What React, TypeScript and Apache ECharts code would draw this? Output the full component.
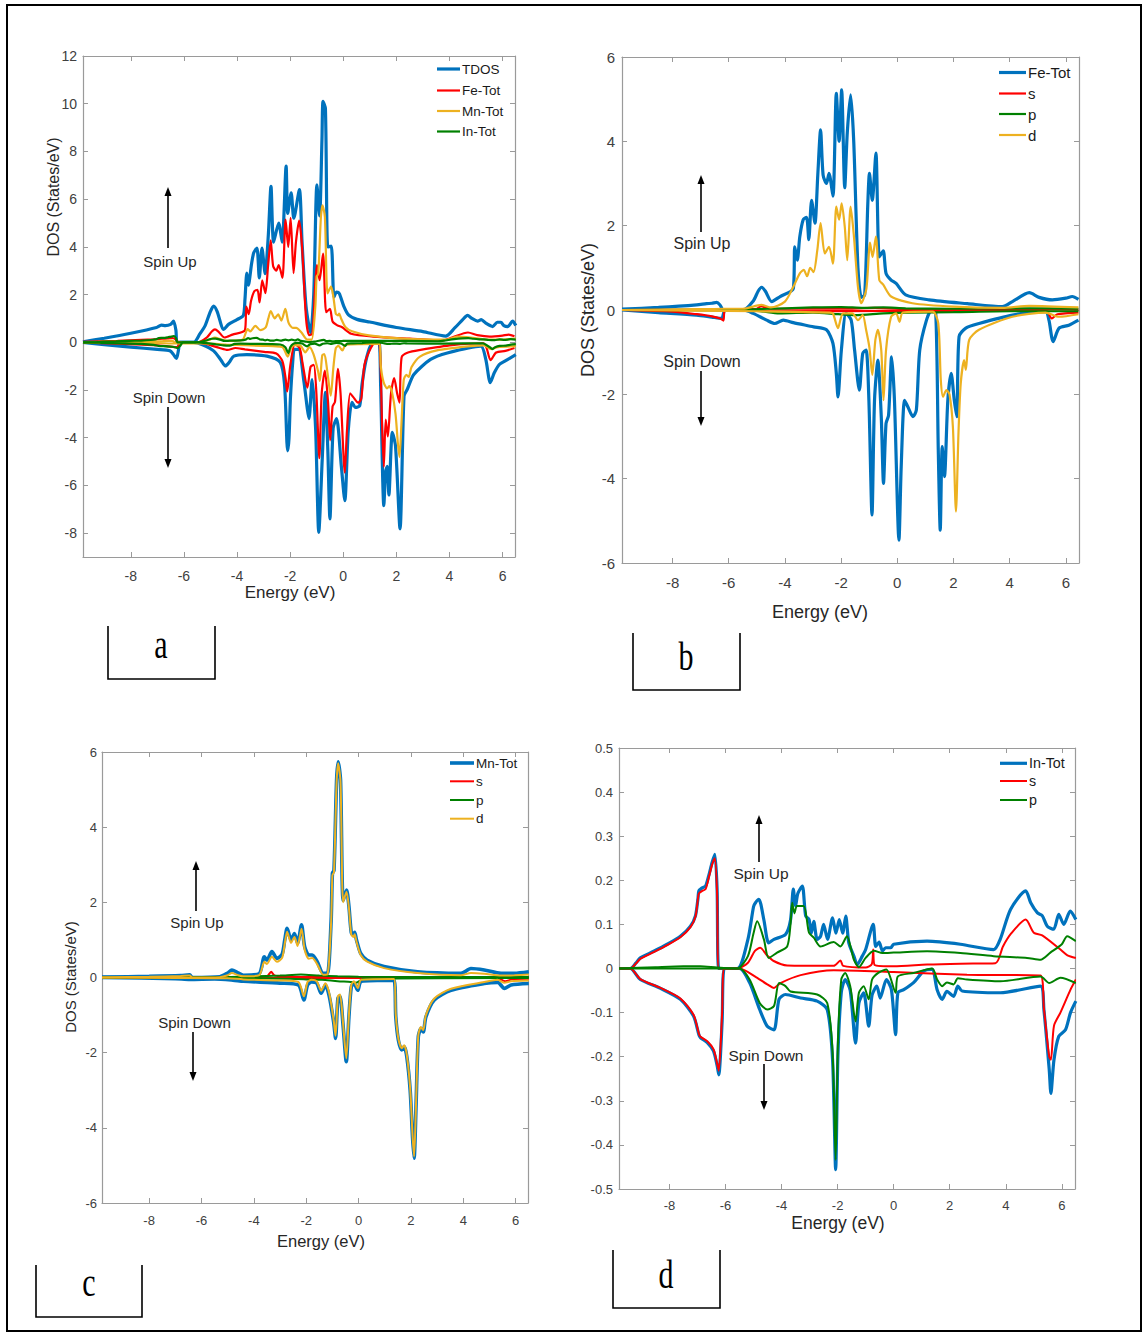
import React, { useEffect, useRef } from "react";
import * as echarts from "echarts";

// ---------------- DATA ----------------
const energyTicks = [-8, -6, -4, -2, 0, 2, 4, 6];
const dosTicksA = [-8, -6, -4, -2, 0, 2, 4, 6, 8, 10, 12];
const dosTicksBC = [-6, -4, -2, 0, 2, 4, 6];
const dosTicksD = [-0.5, -0.4, -0.3, -0.2, -0.1, 0, 0.1, 0.2, 0.3, 0.4, 0.5];

// Panel a: total DOS
const tdosUp = [[-9.8,0.02],[-9.0,0.17],[-8.0,0.38],[-7.03,0.62],[-6.85,0.72],[-6.7,0.7],[-6.5,0.75],[-6.39,0.89],[-6.3,0.5],[-6.25,0.0],[-5.63,0.0],[-5.4,0.35],[-5.2,0.7],[-5.0,1.3],[-4.88,1.52],[-4.75,1.3],[-4.5,0.54],[-4.32,0.75],[-4.0,0.95],[-3.76,1.13],[-3.7,1.8],[-3.63,2.9],[-3.57,2.4],[-3.45,3.3],[-3.37,3.75],[-3.25,3.95],[-3.16,2.7],[-3.06,3.95],[-2.94,2.88],[-2.82,4.5],[-2.72,6.54],[-2.62,4.2],[-2.43,5.0],[-2.3,4.2],[-2.15,7.38],[-2.09,5.4],[-1.96,6.26],[-1.86,5.2],[-1.65,6.4],[-1.55,4.2],[-1.4,1.5],[-1.23,0.4],[-1.11,2.0],[-0.99,6.6],[-0.89,5.3],[-0.8,8.5],[-0.76,10.1],[-0.67,9.8],[-0.58,4.0],[-0.45,4.03],[-0.35,1.9],[-0.25,2.1],[-0.15,2.05],[0.02,1.52],[0.2,1.15],[0.52,0.96],[1.0,0.85],[2.0,0.62],[3.0,0.45],[3.86,0.26],[4.2,0.6],[4.5,0.95],[4.68,1.13],[4.85,1.0],[5.06,0.89],[5.2,0.95],[5.37,0.8],[5.63,0.66],[5.8,0.84],[5.94,0.84],[6.05,0.7],[6.2,0.66],[6.38,0.89],[6.5,0.7]];
const tdosDown = [[-9.8,0],[-9.0,-0.1],[-8.0,-0.2],[-7.0,-0.3],[-6.52,-0.36],[-6.4,-0.5],[-6.28,-0.68],[-6.2,-0.3],[-6.15,0],[-5.63,0],[-5.3,-0.1],[-4.88,-0.36],[-4.6,-0.75],[-4.44,-0.99],[-4.3,-0.85],[-4.12,-0.58],[-3.63,-0.52],[-2.87,-0.58],[-2.37,-0.84],[-2.21,-1.76],[-2.12,-4.2],[-2.09,-4.55],[-2.04,-4.0],[-1.99,-2.4],[-1.9,-0.8],[-1.84,-0.3],[-1.68,-0.3],[-1.49,-1.56],[-1.35,-2.8],[-1.29,-3.2],[-1.17,-1.56],[-1.04,-3.6],[-0.92,-7.97],[-0.79,-4.9],[-0.67,-2.1],[-0.58,-4.5],[-0.5,-7.4],[-0.38,-3.6],[-0.25,-3.2],[-0.07,-5.2],[0.06,-6.64],[0.19,-3.7],[0.33,-2.52],[0.46,-2.73],[0.62,-2.66],[0.71,-1.76],[0.85,-0.8],[1.03,-0.14],[1.22,0],[1.35,0],[1.41,-1.83],[1.53,-6.85],[1.6,-5.4],[1.66,-5.2],[1.72,-6.4],[1.85,-3.78],[1.97,-4.35],[2.14,-7.82],[2.29,-2.26],[2.41,-1.98],[2.66,-1.35],[3.29,-0.72],[3.92,-0.45],[5.18,-0.16],[5.37,-0.72],[5.54,-1.69],[5.69,-1.28],[5.88,-0.93],[6.07,-0.8],[6.5,-0.52]];

// Fe (panel b, and Fe-Tot in panel a)
const feTotUp = [[-9.8,0.02],[-8.5,0.06],[-7.14,0.12],[-6.79,0.15],[-6.6,0.16],[-6.43,0.18],[-6.31,0.12],[-6.19,0],[-5.48,0],[-5.13,0.21],[-4.95,0.45],[-4.83,0.54],[-4.7,0.45],[-4.47,0.2],[-4.17,0.32],[-3.7,0.51],[-3.65,1.5],[-3.56,1.18],[-3.47,1.74],[-3.35,2.14],[-3.23,2.2],[-3.15,1.67],[-3.05,2.6],[-2.93,2.06],[-2.83,3.2],[-2.73,4.27],[-2.64,3.2],[-2.52,3.0],[-2.43,3.24],[-2.29,2.7],[-2.17,5.14],[-2.07,4.0],[-1.98,5.22],[-1.87,2.9],[-1.78,4.2],[-1.66,5.1],[-1.55,4.0],[-1.4,1.0],[-1.28,0.3],[-1.16,0.36],[-1.05,2.5],[-0.99,3.24],[-0.89,2.6],[-0.76,3.72],[-0.64,1.26],[-0.5,1.4],[-0.4,0.87],[-0.22,0.71],[-0.04,0.63],[0.3,0.36],[1.13,0.24],[2.5,0.15],[3.74,0.08],[4.1,0.2],[4.7,0.41],[5.05,0.3],[5.52,0.24],[6.0,0.28],[6.23,0.32],[6.45,0.25]];
const feTotDown = [[-9.8,0],[-8.5,-0.06],[-7.14,-0.12],[-6.6,-0.17],[-6.25,-0.2],[-6.13,0],[-5.48,0],[-5.13,-0.08],[-4.65,-0.24],[-4.36,-0.32],[-4.06,-0.24],[-3.7,-0.3],[-2.98,-0.4],[-2.52,-0.47],[-2.29,-0.79],[-2.17,-1.5],[-2.11,-2.06],[-1.99,-0.95],[-1.82,-0.08],[-1.64,-0.24],[-1.52,-0.95],[-1.35,-1.9],[-1.23,-1.03],[-1.11,-0.95],[-1.01,-2.14],[-0.9,-4.86],[-0.81,-2.14],[-0.69,-1.19],[-0.57,-2.53],[-0.49,-4.11],[-0.4,-2.69],[-0.31,-2.5],[-0.2,-1.11],[-0.1,-2.14],[0.06,-5.46],[0.14,-3.72],[0.26,-2.14],[0.38,-2.3],[0.56,-2.53],[0.68,-2.37],[0.8,-0.95],[1.04,-0.24],[1.22,0],[1.37,-0.08],[1.46,-3.32],[1.53,-5.22],[1.6,-3.24],[1.68,-3.95],[1.8,-2.14],[1.92,-1.5],[2.03,-2.14],[2.12,-2.53],[2.2,-0.63],[2.44,-0.43],[2.91,-0.32],[4.1,-0.12],[5.28,-0.04],[5.4,-0.24],[5.55,-0.75],[5.76,-0.43],[6.11,-0.36],[6.45,-0.24]];
const feSUp = [[-9.8,0],[-6.2,0.01],[-5.0,0.03],[-4.85,0.09],[-4.5,0.03],[-2.0,0.03],[-0.8,0.05],[0.5,0.02],[6.45,0.01]];
const feSDown = [[-9.8,0],[-8.0,-0.04],[-7.14,-0.1],[-6.6,-0.15],[-6.31,-0.2],[-6.19,-0.25],[-6.13,0],[-5.5,0],[-4.5,-0.03],[0.0,-0.02],[5.3,-0.02],[5.5,-0.2],[5.7,-0.1],[6.45,-0.06]];
const fePUp = [[-9.8,0],[-6.2,0.01],[-5.0,0.02],[-4.0,0.04],[-3.0,0.06],[-2.0,0.07],[-1.2,0.05],[-0.5,0.06],[0.3,0.04],[2.0,0.03],[4.5,0.04],[6.45,0.03]];
const fePDown = [[-9.8,0],[-5.0,-0.02],[-4.2,-0.08],[-3.0,-0.06],[-2.1,-0.1],[-1.5,-0.12],[-0.5,-0.08],[0.5,-0.06],[2.0,-0.05],[4.0,-0.03],[6.45,-0.03]];
const feDUp = [[-9.8,0],[-7.0,0.02],[-6.2,0.03],[-5.5,0.03],[-4.83,0.12],[-4.5,0.06],[-4.0,0.2],[-3.7,0.55],[-3.47,0.87],[-3.33,0.95],[-3.21,0.8],[-3.1,1.0],[-2.98,0.9],[-2.85,1.4],[-2.73,2.06],[-2.58,1.34],[-2.43,1.5],[-2.29,1.1],[-2.17,2.45],[-2.07,2.14],[-1.98,2.53],[-1.87,1.98],[-1.78,1.18],[-1.66,2.45],[-1.55,1.8],[-1.4,0.55],[-1.28,0.16],[-1.1,0.5],[-0.97,1.6],[-0.88,1.26],[-0.76,1.74],[-0.64,0.71],[-0.5,0.6],[-0.22,0.32],[0.54,0.16],[2.0,0.08],[3.74,0.05],[4.7,0.1],[6.45,0.06]];
const feDDown = [[-9.8,0],[-5.0,-0.03],[-2.4,-0.06],[-2.29,-0.08],[-2.11,-0.43],[-1.93,-0.08],[-1.6,-0.08],[-1.4,-0.24],[-1.23,-0.12],[-1.11,-0.47],[-0.99,-0.9],[-0.89,-1.54],[-0.78,-0.71],[-0.69,-0.47],[-0.57,-0.95],[-0.49,-2.14],[-0.4,-0.95],[-0.22,-0.16],[-0.04,-0.08],[0.08,-0.28],[0.2,-0.06],[1.26,-0.04],[1.46,-0.32],[1.55,-1.66],[1.63,-2.06],[1.75,-1.9],[1.86,-2.0],[1.98,-2.77],[2.09,-4.78],[2.18,-2.9],[2.26,-1.74],[2.38,-1.19],[2.44,-1.42],[2.56,-0.71],[2.91,-0.47],[4.1,-0.16],[5.28,-0.06],[5.76,-0.16],[6.45,-0.1]];

// Mn (panel c, and Mn-Tot in panel a)
const mnTotUp = [[-9.8,0.01],[-8.0,0.03],[-6.8,0.05],[-6.45,0.07],[-6.35,0.0],[-5.3,0.02],[-5.0,0.12],[-4.84,0.2],[-4.6,0.12],[-4.4,0.06],[-3.8,0.1],[-3.6,0.55],[-3.5,0.46],[-3.31,0.69],[-3.12,0.51],[-2.92,0.62],[-2.82,1.0],[-2.73,1.31],[-2.58,1.0],[-2.45,1.17],[-2.33,0.91],[-2.18,1.4],[-2.06,0.82],[-1.9,0.6],[-1.77,0.6],[-1.58,0.42],[-1.35,0.11],[-1.19,0.11],[-1.05,1.5],[-1.0,2.77],[-0.94,2.85],[-0.84,5.25],[-0.78,5.74],[-0.69,5.25],[-0.59,2.05],[-0.46,2.33],[-0.37,1.9],[-0.28,1.2],[-0.2,1.13],[-0.15,1.2],[-0.08,1.0],[0.08,0.64],[0.33,0.46],[0.97,0.29],[2.25,0.15],[3.91,0.11],[4.29,0.24],[4.8,0.2],[5.44,0.11],[5.95,0.11],[6.5,0.15]];
const mnTotDown = [[-9.8,0],[-7.0,-0.03],[-6.45,-0.05],[-5.5,-0.04],[-4.8,-0.07],[-4.4,-0.1],[-3.0,-0.15],[-2.3,-0.2],[-2.09,-0.6],[-1.95,-0.2],[-1.8,-0.12],[-1.6,-0.15],[-1.43,-0.42],[-1.27,-0.2],[-1.12,-0.5],[-0.95,-1.2],[-0.88,-1.62],[-0.79,-0.55],[-0.71,-0.5],[-0.59,-1.3],[-0.47,-2.24],[-0.37,-1.05],[-0.28,-0.25],[-0.18,-0.15],[-0.03,-0.34],[0.1,-0.1],[1.35,-0.07],[1.42,-1.04],[1.52,-1.67],[1.65,-1.93],[1.74,-1.84],[1.84,-2.1],[1.97,-3.0],[2.06,-4.25],[2.12,-4.81],[2.19,-3.5],[2.28,-1.58],[2.38,-1.36],[2.47,-1.45],[2.57,-1.05],[2.89,-0.6],[3.53,-0.34],[4.8,-0.16],[5.31,-0.13],[5.57,-0.29],[5.82,-0.2],[6.5,-0.16]];
const mnSUp = [[-9.8,0],[-4.0,0.01],[-3.5,0.03],[-3.34,0.15],[-3.2,0.05],[-2.5,0.02],[6.5,0.01]];
const mnSDown = [[-9.8,0],[-4.0,-0.01],[0.0,-0.01],[5.3,-0.01],[5.6,-0.1],[5.9,-0.04],[6.5,-0.03]];
const mnPUp = [[-9.8,0],[-5.0,0.01],[-4.0,0.03],[-3.0,0.05],[-2.2,0.08],[-1.5,0.05],[-0.8,0.03],[0.0,0.02],[6.5,0.01]];
const mnPDown = [[-9.8,0],[-4.0,-0.01],[-2.0,-0.05],[-1.4,-0.06],[-0.8,-0.1],[-0.3,-0.12],[-0.1,-0.14],[0.2,-0.03],[6.5,-0.01]];
const mnDUp = [[-9.8,0.0],[-8.0,0.02],[-6.8,0.04],[-6.45,0.05],[-6.35,0.0],[-5.3,0.01],[-5.0,0.06],[-4.84,0.12],[-4.6,0.06],[-4.4,0.03],[-3.8,0.06],[-3.6,0.42],[-3.5,0.36],[-3.31,0.55],[-3.12,0.42],[-2.92,0.52],[-2.82,0.9],[-2.73,1.22],[-2.58,0.92],[-2.45,1.08],[-2.33,0.84],[-2.18,1.3],[-2.06,0.74],[-1.9,0.5],[-1.77,0.52],[-1.58,0.35],[-1.35,0.07],[-1.19,0.08],[-1.05,1.45],[-1.0,2.72],[-0.94,2.8],[-0.84,5.2],[-0.78,5.7],[-0.69,5.2],[-0.59,2.0],[-0.46,2.28],[-0.37,1.85],[-0.28,1.15],[-0.2,1.08],[-0.15,1.15],[-0.08,0.95],[0.08,0.6],[0.33,0.42],[0.97,0.25],[2.25,0.12],[3.91,0.06],[4.29,0.12],[4.8,0.1],[5.44,0.05],[5.95,0.06],[6.5,0.08]];
const mnDDown = [[-9.8,0],[-7.0,-0.01],[-5.0,-0.02],[-4.4,-0.05],[-3.0,-0.08],[-2.3,-0.12],[-2.09,-0.5],[-1.95,-0.12],[-1.8,-0.06],[-1.6,-0.1],[-1.43,-0.35],[-1.27,-0.15],[-1.12,-0.42],[-0.95,-1.15],[-0.88,-1.55],[-0.79,-0.5],[-0.71,-0.45],[-0.59,-1.25],[-0.47,-2.15],[-0.37,-1.0],[-0.28,-0.2],[-0.18,-0.1],[-0.03,-0.28],[0.1,-0.06],[1.35,-0.04],[1.42,-1.0],[1.52,-1.63],[1.65,-1.88],[1.74,-1.8],[1.84,-2.05],[1.97,-2.95],[2.06,-4.2],[2.12,-4.76],[2.19,-3.45],[2.28,-1.54],[2.38,-1.32],[2.47,-1.4],[2.57,-1.0],[2.89,-0.56],[3.53,-0.3],[4.8,-0.12],[5.31,-0.06],[5.57,-0.14],[5.82,-0.1],[6.5,-0.08]];

// In (panel d, and In-Tot in panel a)
const inTotUp = [[-9.8,0],[-9.4,0],[-9.2,0.012],[-9.04,0.024],[-8.56,0.039],[-8.08,0.055],[-7.61,0.073],[-7.25,0.096],[-7.07,0.12],[-6.98,0.16],[-6.95,0.176],[-6.83,0.183],[-6.71,0.187],[-6.6,0.21],[-6.48,0.24],[-6.38,0.259],[-6.3,0.18],[-6.24,0],[-5.58,0],[-5.2,0.066],[-5.0,0.14],[-4.93,0.149],[-4.81,0.157],[-4.63,0.11],[-4.46,0.058],[-4.27,0.066],[-3.86,0.077],[-3.68,0.11],[-3.58,0.18],[-3.5,0.142],[-3.42,0.17],[-3.26,0.187],[-3.14,0.119],[-3.02,0.111],[-2.94,0.08],[-2.85,0.107],[-2.73,0.066],[-2.61,0.073],[-2.5,0.1],[-2.36,0.066],[-2.18,0.115],[-2.06,0.08],[-1.94,0.111],[-1.82,0.08],[-1.71,0.119],[-1.6,0.058],[-1.42,0.028],[-1.3,0.009],[-1.12,0.028],[-1.0,0.043],[-0.73,0.1],[-0.64,0.05],[-0.52,0.06],[-0.4,0.04],[-0.29,0.047],[-0.1,0.047],[0.0,0.055],[1.19,0.062],[2.38,0.055],[3.57,0.043],[3.8,0.066],[4.17,0.134],[4.71,0.176],[4.89,0.149],[5.13,0.126],[5.3,0.12],[5.48,0.096],[5.71,0.089],[5.89,0.123],[6.07,0.1],[6.3,0.13],[6.5,0.111]];
const inTotDown = [[-9.8,0],[-9.4,0],[-9.04,-0.025],[-8.32,-0.045],[-7.61,-0.07],[-7.14,-0.108],[-6.95,-0.15],[-6.89,-0.157],[-6.65,-0.168],[-6.43,-0.187],[-6.3,-0.22],[-6.24,-0.241],[-6.12,-0.12],[-6.04,0],[-5.5,0],[-5.14,-0.032],[-4.78,-0.093],[-4.51,-0.131],[-4.27,-0.139],[-4.09,-0.07],[-3.86,-0.059],[-3.32,-0.067],[-2.73,-0.074],[-2.37,-0.093],[-2.18,-0.207],[-2.07,-0.456],[-1.99,-0.2],[-1.87,-0.055],[-1.73,-0.025],[-1.55,-0.05],[-1.36,-0.169],[-1.24,-0.078],[-1.07,-0.055],[-0.89,-0.131],[-0.77,-0.06],[-0.6,-0.04],[-0.48,-0.067],[-0.26,-0.025],[-0.08,-0.048],[0.07,-0.15],[0.15,-0.055],[0.36,-0.048],[0.71,-0.032],[1.07,-0.006],[1.37,-0.002],[1.55,-0.048],[1.73,-0.07],[1.9,-0.052],[2.14,-0.063],[2.29,-0.04],[2.44,-0.051],[3.81,-0.055],[5.24,-0.04],[5.36,-0.093],[5.55,-0.229],[5.61,-0.283],[5.72,-0.207],[5.89,-0.154],[6.13,-0.139],[6.31,-0.1],[6.5,-0.074]];
const inSUp = [[-9.8,0],[-9.4,0],[-9.2,0.011],[-9.04,0.022],[-8.56,0.037],[-8.08,0.053],[-7.61,0.071],[-7.25,0.094],[-7.07,0.118],[-6.98,0.16],[-6.95,0.17],[-6.83,0.176],[-6.71,0.18],[-6.6,0.205],[-6.48,0.235],[-6.38,0.25],[-6.3,0.17],[-6.24,0],[-5.58,0],[-5.2,0.013],[-4.95,0.04],[-4.76,0.047],[-4.52,0.03],[-4.28,0.017],[-3.8,0.007],[-2.14,0.006],[-1.9,0.018],[-1.8,0.006],[-1.0,0.002],[-0.78,0.01],[-0.73,0.043],[-0.68,0.008],[0.0,0.005],[1.19,0.009],[2.38,0.011],[3.63,0.012],[3.9,0.05],[4.2,0.08],[4.71,0.111],[5.0,0.081],[5.3,0.075],[5.95,0.043],[6.2,0.03],[6.5,0.024]];
const inSDown = [[-9.8,0],[-9.4,0],[-9.04,-0.024],[-8.32,-0.044],[-7.61,-0.068],[-7.14,-0.105],[-6.95,-0.148],[-6.89,-0.155],[-6.65,-0.165],[-6.43,-0.183],[-6.3,-0.215],[-6.24,-0.232],[-6.12,-0.1],[-6.04,0],[-5.5,0],[-4.9,-0.02],[-4.51,-0.036],[-4.27,-0.044],[-4.04,-0.033],[-3.32,-0.015],[-2.14,-0.004],[0.0,-0.008],[2.62,-0.014],[5.24,-0.016],[5.36,-0.09],[5.55,-0.2],[5.61,-0.207],[5.72,-0.13],[5.95,-0.1],[6.31,-0.048],[6.5,-0.025]];
const inPUp = [[-9.8,0],[-8.5,0.003],[-7.5,0.005],[-6.9,0.005],[-6.3,0.002],[-5.58,0],[-5.2,0.028],[-5.0,0.08],[-4.87,0.107],[-4.63,0.066],[-4.46,0.024],[-4.16,0.036],[-3.8,0.05],[-3.68,0.1],[-3.62,0.149],[-3.54,0.125],[-3.45,0.142],[-3.21,0.142],[-3.02,0.081],[-2.85,0.07],[-2.61,0.05],[-2.14,0.06],[-1.9,0.05],[-1.67,0.073],[-1.42,0.02],[-1.24,0.003],[-1.0,0.024],[-0.7,0.04],[-0.4,0.035],[0.0,0.036],[1.19,0.039],[2.38,0.035],[3.57,0.028],[4.76,0.024],[5.24,0.02],[5.59,0.036],[6.0,0.055],[6.19,0.073],[6.5,0.062]];
const inPDown = [[-9.8,0],[-5.5,0],[-5.14,-0.025],[-4.78,-0.078],[-4.51,-0.093],[-4.27,-0.085],[-4.09,-0.033],[-3.86,-0.04],[-3.68,-0.052],[-2.73,-0.059],[-2.37,-0.078],[-2.18,-0.19],[-2.07,-0.434],[-1.99,-0.17],[-1.87,-0.025],[-1.73,-0.01],[-1.55,-0.04],[-1.36,-0.12],[-1.24,-0.055],[-1.07,-0.04],[-0.89,-0.07],[-0.77,-0.025],[-0.55,-0.01],[-0.26,-0.002],[0.07,-0.055],[0.15,-0.018],[0.71,-0.01],[1.37,0],[1.55,-0.025],[1.73,-0.04],[1.9,-0.032],[2.14,-0.036],[2.29,-0.022],[2.62,-0.025],[3.81,-0.029],[5.24,-0.018],[5.55,-0.033],[5.95,-0.021],[6.5,-0.033]];

// ---------------- STYLE / LAYOUT ----------------
const BLUE = "#0072BD";
const RED = "#FF0000";
const GREEN = "#008000";
const YELLOW = "#EDB120";
const AXIS = "#9a9a9a";
const LABEL = "#404040";
const FONT = "Liberation Sans";
const X_MIN = -9.8;
const X_MAX = 6.47;

type Curve = { name: string; up: number[][]; down: number[][]; color: string; width: number };

const panels = [
  {
    grid: { left: 83, top: 56, width: 432, height: 501 }, yMin: -9, yMax: 12, yTicks: dosTicksA,
    tickFont: 14, xMargin: 12, yMargin: 6,
    curves: [
      { name: "TDOS", up: tdosUp, down: tdosDown, color: BLUE, width: 3.2 },
      { name: "Fe-Tot", up: feTotUp, down: feTotDown, color: RED, width: 2.2 },
      { name: "Mn-Tot", up: mnTotUp, down: mnTotDown, color: YELLOW, width: 2.2 },
      { name: "In-Tot", up: inTotUp, down: inTotDown, color: GREEN, width: 2.2 },
    ] as Curve[],
    legend: { x1: 437, x2: 460, ys: [69, 90.5, 111, 131.5], font: 13.5 },
  },
  {
    grid: { left: 622, top: 57, width: 457, height: 506 }, yMin: -6, yMax: 6, yTicks: dosTicksBC,
    tickFont: 15, xMargin: 12, yMargin: 7,
    curves: [
      { name: "Fe-Tot", up: feTotUp, down: feTotDown, color: BLUE, width: 3.2 },
      { name: "s", up: feSUp, down: feSDown, color: RED, width: 2.2 },
      { name: "p", up: fePUp, down: fePDown, color: GREEN, width: 2.2 },
      { name: "d", up: feDUp, down: feDDown, color: YELLOW, width: 2.2 },
    ] as Curve[],
    legend: { x1: 999, x2: 1026, ys: [72.5, 93.5, 114, 135], font: 15 },
  },
  {
    grid: { left: 102, top: 752, width: 426, height: 451 }, yMin: -6, yMax: 6, yTicks: dosTicksBC,
    tickFont: 13, xMargin: 11, yMargin: 5,
    curves: [
      { name: "Mn-Tot", up: mnTotUp, down: mnTotDown, color: BLUE, width: 3.6 },
      { name: "s", up: mnSUp, down: mnSDown, color: RED, width: 2 },
      { name: "p", up: mnPUp, down: mnPDown, color: GREEN, width: 2 },
      { name: "d", up: mnDUp, down: mnDDown, color: YELLOW, width: 2 },
    ] as Curve[],
    legend: { x1: 450, x2: 474, ys: [763, 781.3, 800, 818.7], font: 13.5 },
  },
  {
    grid: { left: 619, top: 748, width: 456, height: 441 }, yMin: -0.5, yMax: 0.5, yTicks: dosTicksD,
    tickFont: 13, xMargin: 10, yMargin: 6,
    curves: [
      { name: "In-Tot", up: inTotUp, down: inTotDown, color: BLUE, width: 3.2 },
      { name: "s", up: inSUp, down: inSDown, color: RED, width: 2 },
      { name: "p", up: inPUp, down: inPDown, color: GREEN, width: 2 },
    ] as Curve[],
    legend: { x1: 1000, x2: 1027, ys: [763.3, 781, 800], font: 14.3 },
  },
];

const fmtTick = (v: number) => {
  const r = Math.round(v * 10) / 10;
  return String(r === 0 ? 0 : r);
};

function arrow(x: number, tail: number, tip: number) {
  const dir = tip < tail ? 1 : -1; // 1 = pointing up
  const headLen = 9;
  const base = tip + dir * headLen;
  return [
    { type: "line", shape: { x1: x, y1: tail, x2: x, y2: base }, style: { stroke: "#000", lineWidth: 1.6 }, silent: true, z: 50 },
    { type: "polygon", shape: { points: [[x - 3.5, base], [x + 3.5, base], [x, tip]] }, style: { fill: "#000" }, silent: true, z: 50 },
  ];
}

function txt(x: number, y: number, text: string, size: number, opts: any = {}) {
  return {
    type: "text", x, y, rotation: opts.rotation || 0, silent: true, z: 50,
    style: {
      text, fontSize: size, fontFamily: opts.family || FONT, fill: opts.fill || "#262626",
      align: opts.align || "center", verticalAlign: "middle",
    },
    scaleX: opts.scaleX || 1, scaleY: opts.scaleY || 1,
  };
}

export default function App() {
  const ref = useRef<HTMLDivElement>(null);
  useEffect(() => {
    if (!ref.current) return;
    const chart = echarts.init(ref.current, null, { renderer: "svg" });

    const grids: any[] = [];
    const xAxes: any[] = [];
    const yAxes: any[] = [];
    const series: any[] = [];
    const graphics: any[] = [];

    panels.forEach((p, i) => {
      grids.push({ ...p.grid, containLabel: false });
      const lineStyle = { color: AXIS, width: 1.2 };
      const tickStyle = { color: AXIS, width: 1 };
      xAxes.push({
        type: "value", gridIndex: i, min: X_MIN, max: X_MAX, position: "bottom",
        axisLine: { show: true, onZero: false, lineStyle },
        axisTick: { show: true, inside: true, length: 5, customValues: energyTicks, lineStyle: tickStyle },
        axisLabel: { show: true, customValues: energyTicks, color: LABEL, fontSize: p.tickFont, fontFamily: FONT, margin: p.xMargin, formatter: fmtTick },
        splitLine: { show: false },
      });
      xAxes.push({
        type: "value", gridIndex: i, min: X_MIN, max: X_MAX, position: "top",
        axisLine: { show: true, onZero: false, lineStyle },
        axisTick: { show: true, inside: true, length: 5, customValues: energyTicks, lineStyle: tickStyle },
        axisLabel: { show: false },
        splitLine: { show: false },
      });
      yAxes.push({
        type: "value", gridIndex: i, min: p.yMin, max: p.yMax, position: "left",
        axisLine: { show: true, onZero: false, lineStyle },
        axisTick: { show: true, inside: true, length: 5, customValues: p.yTicks, lineStyle: tickStyle },
        axisLabel: { show: true, customValues: p.yTicks, color: LABEL, fontSize: p.tickFont, fontFamily: FONT, margin: p.yMargin, formatter: fmtTick },
        splitLine: { show: false },
      });
      yAxes.push({
        type: "value", gridIndex: i, min: p.yMin, max: p.yMax, position: "right",
        axisLine: { show: true, onZero: false, lineStyle },
        axisTick: { show: true, inside: true, length: 5, customValues: p.yTicks, lineStyle: tickStyle },
        axisLabel: { show: false },
        splitLine: { show: false },
      });

      p.curves.forEach((c, k) => {
        [c.up, c.down].forEach((d, j) => {
          series.push({
            type: "line", name: c.name + (j ? " down" : " up"), data: d,
            xAxisIndex: 2 * i, yAxisIndex: 2 * i,
            showSymbol: false, symbol: "none", smooth: 0.25,
            lineStyle: { color: c.color, width: c.width }, itemStyle: { color: c.color },
            z: 2 + k, silent: true, clip: true,
          });
        });
        // legend entry
        const y = p.legend.ys[k];
        graphics.push({ type: "line", shape: { x1: p.legend.x1, y1: y, x2: p.legend.x2, y2: y }, style: { stroke: c.color, lineWidth: c.width }, silent: true, z: 50 });
        graphics.push(txt(p.legend.x2 + 2, y, c.name, p.legend.font, { align: "left", fill: "#1a1a1a" }));
      });
    });

    // axis titles
    graphics.push(txt(53, 197, "DOS (States/eV)", 16, { rotation: Math.PI / 2 }));
    graphics.push(txt(290, 592, "Energy (eV)", 17));
    graphics.push(txt(588, 310, "DOS (States/eV)", 18, { rotation: Math.PI / 2 }));
    graphics.push(txt(820, 612, "Energy (eV)", 18));
    graphics.push(txt(70, 977, "DOS (States/eV)", 15, { rotation: Math.PI / 2 }));
    graphics.push(txt(321, 1241, "Energy (eV)", 16.5));
    graphics.push(txt(838, 1223, "Energy (eV)", 17.5));

    // spin annotations
    graphics.push(...arrow(168, 248, 187), txt(170, 261, "Spin Up", 15));
    graphics.push(txt(169, 397, "Spin Down", 15), ...arrow(168, 407, 468));
    graphics.push(...arrow(701, 232, 175), txt(702, 243, "Spin Up", 16));
    graphics.push(txt(702, 361, "Spin Down", 16), ...arrow(701, 371, 426));
    graphics.push(...arrow(196, 911, 861), txt(197, 922, "Spin Up", 15));
    graphics.push(txt(194.5, 1022, "Spin Down", 15), ...arrow(193, 1032, 1081));
    graphics.push(...arrow(759, 862, 815), txt(761, 873, "Spin Up", 15.5));
    graphics.push(txt(766, 1055, "Spin Down", 15.5), ...arrow(764, 1064, 1110));

    // outer frame
    graphics.push({ type: "rect", shape: { x: 7, y: 5, width: 1134, height: 1326 }, style: { fill: "none", stroke: "#000", lineWidth: 2 }, silent: true, z: 60 });

    // panel letter boxes
    const boxes = [
      { l: 108, r: 215, t: 626, b: 679, letter: "a", lx: 161, ly: 645 },
      { l: 633, r: 740, t: 633, b: 690, letter: "b", lx: 686, ly: 657 },
      { l: 36, r: 142, t: 1265, b: 1317, letter: "c", lx: 89, ly: 1283 },
      { l: 613, r: 720, t: 1250, b: 1308, letter: "d", lx: 666, ly: 1275 },
    ];
    boxes.forEach((bx) => {
      graphics.push({ type: "polyline", shape: { points: [[bx.l, bx.t], [bx.l, bx.b], [bx.r, bx.b], [bx.r, bx.t]] }, style: { stroke: "#000", lineWidth: 1.6, fill: null }, silent: true, z: 60 });
      graphics.push({
        type: "text", x: bx.lx, y: bx.ly, silent: true, z: 60, scaleY: 1.3,
        style: { text: bx.letter, fontSize: 30, fontFamily: "Liberation Serif", fill: "#000", align: "center", verticalAlign: "middle" },
      });
    });

    chart.setOption({
      animation: false,
      backgroundColor: "#ffffff",
      textStyle: { fontFamily: FONT },
      grid: grids,
      xAxis: xAxes,
      yAxis: yAxes,
      series,
      graphic: { elements: graphics },
    });
    return () => chart.dispose();
  }, []);

  return (
    <div
      ref={ref}
      style={{ position: "absolute", left: 0, top: 0, width: 1145, height: 1335, background: "#fff" }}
    />
  );
}
